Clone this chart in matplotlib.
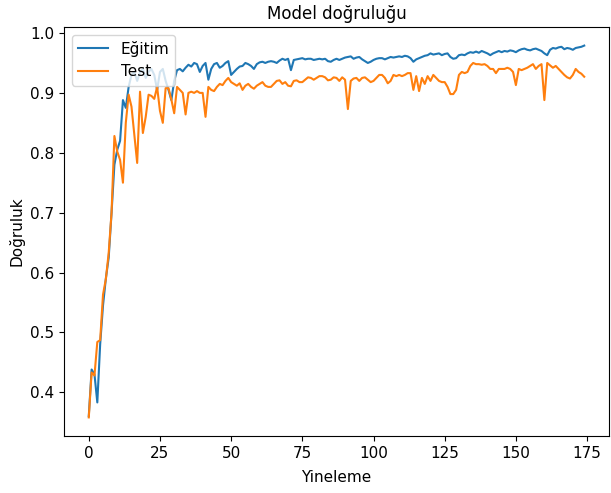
import matplotlib
matplotlib.use("Agg")
import matplotlib.pyplot as plt

title = "Model doğruluğu"
xlabel = "Yineleme"
ylabel = "Doğruluk"
legend_labels = ["Eğitim", "Test"]

train_acc = [
    0.36, 0.438, 0.43, 0.383, 0.48, 0.545, 0.59, 0.625, 0.70, 0.78,
    0.805, 0.82, 0.888, 0.875, 0.91, 0.93, 0.935, 0.92, 0.935, 0.94,
    0.925, 0.935, 0.94, 0.93, 0.905, 0.935, 0.94, 0.92, 0.905, 0.888,
    0.92, 0.938, 0.94, 0.936, 0.942, 0.947, 0.944, 0.95, 0.948, 0.935,
    0.945, 0.95, 0.922, 0.94, 0.948, 0.95, 0.942, 0.945, 0.95, 0.953,
    0.93, 0.935, 0.94, 0.944, 0.945, 0.95, 0.948, 0.945, 0.94, 0.948,
    0.951, 0.952, 0.95, 0.952, 0.953, 0.952, 0.95, 0.954, 0.957, 0.955,
    0.957, 0.938, 0.955, 0.956, 0.957, 0.958, 0.956, 0.957, 0.957, 0.955,
    0.956, 0.957, 0.956, 0.957, 0.953, 0.952, 0.955, 0.957, 0.955, 0.957,
    0.959, 0.96, 0.961, 0.957, 0.959, 0.96, 0.956, 0.953, 0.95, 0.952,
    0.955, 0.957, 0.958, 0.958, 0.956, 0.958, 0.96, 0.959, 0.96, 0.961,
    0.96, 0.962, 0.961, 0.958, 0.952, 0.956, 0.958, 0.96, 0.962, 0.963,
    0.966, 0.964, 0.965, 0.966, 0.963, 0.965, 0.966, 0.96, 0.957, 0.958,
    0.963, 0.964, 0.963, 0.966, 0.968, 0.967, 0.969, 0.967, 0.97, 0.968,
    0.966, 0.963, 0.966, 0.968, 0.97, 0.968, 0.97, 0.969, 0.971, 0.97,
    0.968, 0.971, 0.973, 0.974, 0.972, 0.971, 0.973, 0.974, 0.972, 0.97,
    0.966, 0.963, 0.972, 0.975, 0.974, 0.976, 0.977, 0.973, 0.975, 0.974,
    0.972, 0.975, 0.976, 0.977, 0.979,
]

test_acc = [
    0.358, 0.433, 0.428, 0.484, 0.487, 0.563, 0.589, 0.633, 0.70, 0.828,
    0.802, 0.788, 0.75, 0.85, 0.897, 0.877, 0.83, 0.783, 0.902, 0.833,
    0.86, 0.897, 0.895, 0.89, 0.91, 0.87, 0.85, 0.908, 0.908, 0.889,
    0.866, 0.91, 0.905, 0.9, 0.864, 0.9, 0.902, 0.9, 0.903, 0.9,
    0.9, 0.86, 0.91, 0.905, 0.903, 0.91, 0.915, 0.913, 0.92, 0.925,
    0.918, 0.915, 0.912, 0.916, 0.905, 0.912, 0.915, 0.91, 0.907, 0.912,
    0.915, 0.918, 0.912, 0.91, 0.91, 0.915, 0.92, 0.921, 0.915, 0.918,
    0.912, 0.911, 0.92, 0.921, 0.918, 0.918, 0.922, 0.926, 0.925, 0.922,
    0.925, 0.928, 0.928, 0.926, 0.921, 0.922, 0.926, 0.925, 0.92, 0.926,
    0.922, 0.873, 0.92, 0.924, 0.925, 0.92, 0.925, 0.926, 0.922, 0.918,
    0.92, 0.925, 0.93, 0.93, 0.925, 0.916, 0.92, 0.93, 0.928, 0.93,
    0.928, 0.93, 0.933, 0.933, 0.905, 0.928, 0.903, 0.925, 0.915, 0.928,
    0.92, 0.93, 0.925, 0.92, 0.918, 0.918, 0.91, 0.898, 0.898, 0.905,
    0.93, 0.935, 0.933, 0.935, 0.945, 0.95, 0.948, 0.948, 0.947, 0.948,
    0.945, 0.94, 0.94, 0.933, 0.94, 0.94, 0.94, 0.942, 0.94, 0.935,
    0.913, 0.94, 0.938, 0.94, 0.942, 0.945, 0.948, 0.94, 0.945, 0.948,
    0.888, 0.95, 0.946, 0.942, 0.945, 0.94, 0.935, 0.93, 0.926, 0.924,
    0.93, 0.94, 0.935, 0.932, 0.927,
]

fig = plt.figure(figsize=(6.11, 4.93), dpi=100)
L, R, T, B = 64, 609, 27, 436
ax = fig.add_axes([L / 611, (493 - B) / 493, (R - L) / 611, (B - T) / 493])
ax.plot(train_acc, color="#1f77b4", linewidth=1.5)
ax.plot(test_acc, color="#ff7f0e", linewidth=1.5)
ax.set_title(title, fontsize=12, pad=6)
ax.set_xlabel(xlabel, fontsize=11, labelpad=7)
ax.set_ylabel(ylabel, fontsize=11)
ax.tick_params(labelsize=11)
ax.legend(legend_labels, loc="upper left", fontsize=11)
fig.savefig("out.png", dpi=100)
